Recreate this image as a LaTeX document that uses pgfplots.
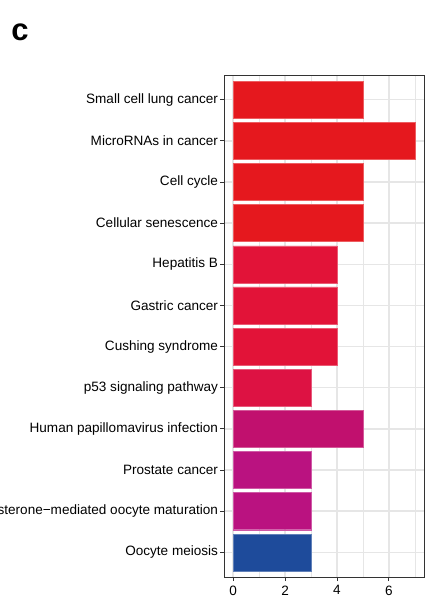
\documentclass[border=0pt]{standalone}
\usepackage{fontspec}
\setmainfont{Liberation Sans}
\usepackage{pgfplots}
\pgfplotsset{compat=1.18}

% bar fills, from red (most significant) to blue
\definecolor{cA}{RGB}{229,24,30}
\definecolor{cB}{RGB}{226,19,56}
\definecolor{cC}{RGB}{221,18,67}
\definecolor{cD}{RGB}{193,16,110}
\definecolor{cE}{RGB}{186,18,128}
\definecolor{cF}{RGB}{30,75,155}
\definecolor{gridgrey}{RGB}{230,230,230}
\definecolor{framegrey}{RGB}{51,51,51}

\begin{document}
\begin{tikzpicture}[x=1pt,y=1pt]
\path[use as bounding box] (0,0) rectangle (430,601);
\clip (0,0) rectangle (430,601);

\node[inner sep=0pt, font=\fontsize{31}{33}\selectfont\bfseries] at (20,569) {c};

\begin{axis}[
  at={(224pt,24pt)}, anchor=south west,
  scale only axis, width=200pt, height=502pt,
  xmin=-0.35, xmax=7.35,
  ymin=0.4, ymax=12.6, y dir=reverse,
  xtick={0,2,4,6}, minor xtick={1,3,5,7},
  ytick={1,...,12},
  yticklabels={Small cell lung cancer, MicroRNAs in cancer, Cell cycle,
    Cellular senescence, Hepatitis B, Gastric cancer, Cushing syndrome,
    p53 signaling pathway, Human papillomavirus infection, Prostate cancer,
    Progesterone−mediated oocyte maturation, Oocyte meiosis},
  tick label style={font=\fontsize{13.55}{16}\selectfont, text=black},
  /pgf/number format/assume math mode=true,
  xtick pos=bottom, ytick pos=left,
  tick align=outside, major tick length=4pt, minor tick length=0pt,
  tick style={framegrey, line width=0.9pt},
  axis line style={framegrey, line width=0.9pt},
  xmajorgrids, xminorgrids, ymajorgrids,
  major grid style={gridgrey, line width=1.5pt},
  minor grid style={gridgrey, line width=0.8pt},
  xticklabel style={yshift=-1pt},
  yticklabel style={xshift=1.5pt},
]
\addplot[xbar, bar width=0.9, bar shift=0pt, fill=cA, draw=cA!70!white, line width=0.35pt]
  coordinates {(5,1) (7,2) (5,3) (5,4)};
\addplot[xbar, bar width=0.9, bar shift=0pt, fill=cB, draw=cB!70!white, line width=0.35pt]
  coordinates {(4,5) (4,6) (4,7)};
\addplot[xbar, bar width=0.9, bar shift=0pt, fill=cC, draw=cC!70!white, line width=0.35pt]
  coordinates {(3,8)};
\addplot[xbar, bar width=0.9, bar shift=0pt, fill=cD, draw=cD!70!white, line width=0.35pt]
  coordinates {(5,9)};
\addplot[xbar, bar width=0.9, bar shift=0pt, fill=cE, draw=cE!70!white, line width=0.35pt]
  coordinates {(3,10) (3,11)};
\addplot[xbar, bar width=0.9, bar shift=0pt, fill=cF, draw=cF!70!white, line width=0.35pt]
  coordinates {(3,12)};
\end{axis}
\end{tikzpicture}
\end{document}
